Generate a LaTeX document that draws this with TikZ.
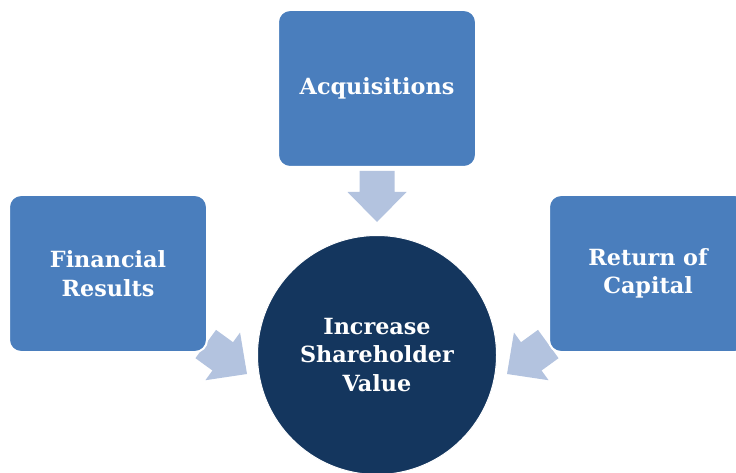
\documentclass[tikz,border=0pt]{standalone}
\usepackage{fontspec}
\setmainfont{DejaVu Serif}
\definecolor{boxblue}{HTML}{4A7EBD}
\definecolor{navy}{HTML}{14365E}
\definecolor{arrowblue}{HTML}{B3C3DF}
\tikzset{
  box/.style={rectangle, rounded corners=12pt, fill=boxblue, draw=white, line width=2pt,
    minimum width=198pt, minimum height=157pt, text=white, align=center,
    font=\bfseries\fontsize{22.3}{28.5}\selectfont, inner sep=0pt},
  hub/.style={circle, fill=navy, draw=white, line width=1pt, minimum size=239pt, text=white,
    align=center, font=\bfseries\fontsize{22.3}{28.5}\selectfont, inner sep=0pt},
  blockarrow/.style={fill=arrowblue}
}
\newcommand{\blockarrowpath}{(0,0) -- (-30,29.5) -- (-30,17.5) -- (-51,17.5) -- (-51,-17.5) -- (-30,-17.5) -- (-30,-29.5) -- cycle}
\begin{document}
\begin{tikzpicture}[x=1pt,y=1pt]
\useasboundingbox (0,0) rectangle (736,472);
\clip (0,0) rectangle (736,472);
% block arrows (behind boxes)
\coordinate (tipA) at (377,250);
\coordinate (tipL) at (247,98);
\coordinate (tipR) at (507,98);
\begin{scope}[shift={(tipA)}, rotate=-90]
  \fill[blockarrow] \blockarrowpath;
\end{scope}
\begin{scope}[shift={(tipL)}, rotate=-36]
  \fill[blockarrow] \blockarrowpath;
\end{scope}
\begin{scope}[shift={(tipR)}, rotate=216]
  \fill[blockarrow] \blockarrowpath;
\end{scope}
% boxes
\node[box] (acq) at (377,383.5) {Acquisitions};
\node[box] (fin) at (108,198.5) {Financial\\Results};
\node[box] (ret) at (648,198.5) {Return of\\Capital};
\node[hub] (hub) at (377,117) {Increase\\Shareholder\\Value};
\end{tikzpicture}
\end{document}
